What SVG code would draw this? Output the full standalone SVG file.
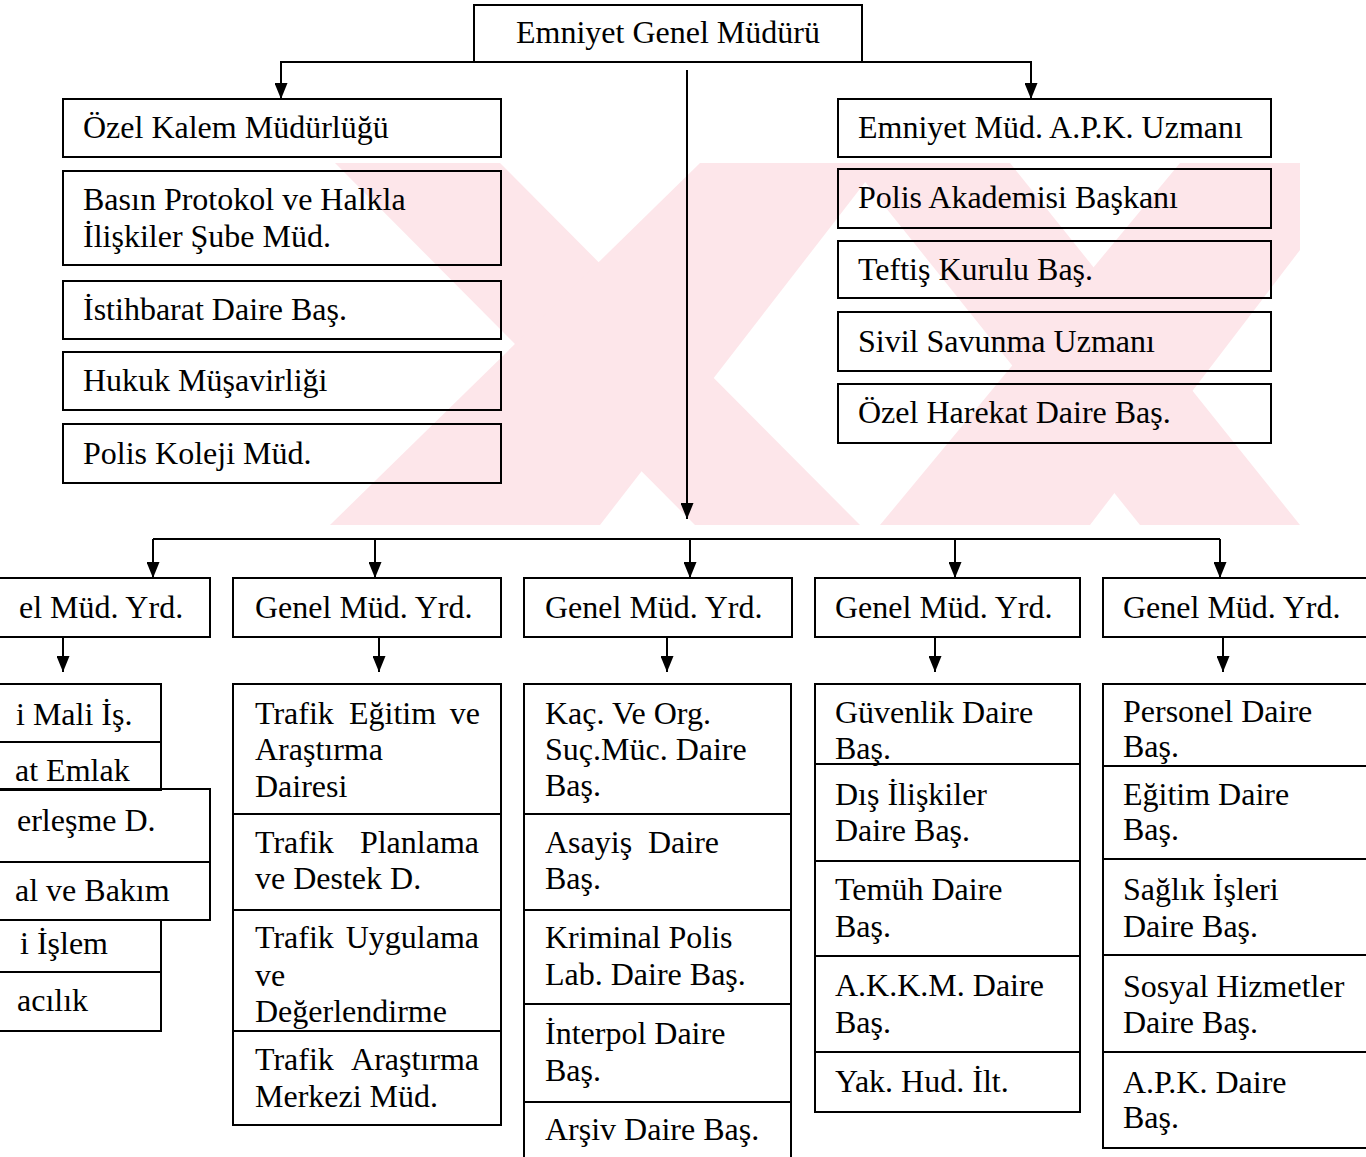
<svg xmlns="http://www.w3.org/2000/svg" width="1366" height="1157" viewBox="0 0 1366 1157">
<style>
.bx{fill:none;stroke:#000;stroke-width:2}
.ln{fill:none;stroke:#000;stroke-width:2}
.t{font-family:"Liberation Serif","Times New Roman",serif;font-size:32px;fill:#000}
.wm{fill:#fde6ea}
</style>
<defs>
<marker id="ah" viewBox="0 0 16 13" markerWidth="16" markerHeight="13" refX="16" refY="6.5" orient="auto" markerUnits="userSpaceOnUse">
<path d="M0,0 L16,6.5 L0,13 z" fill="#000"/>
</marker>
</defs>
<rect width="1366" height="1157" fill="#fff"/>
<g id="watermark">
<polygon class="wm" points="335,163 500,163 860,525 695,525"/>
<polygon class="wm" points="850,163 1010,163 1300,525 1140,525"/>
<polygon class="wm" points="330,525 600,525 880,163 700,163"/>
<polygon class="wm" points="880,525 1090,525 1300,250 1300,163 1180,163"/>
</g>
<g id="connectors">
<path class="ln" d="M474,62 H281 V99" marker-end="url(#ah)"/>
<path class="ln" d="M862,62 H1031 V99" marker-end="url(#ah)"/>
<path class="ln" d="M687,70 V519" marker-end="url(#ah)"/>
<path class="ln" d="M153,539 H1220"/>
<path class="ln" d="M153,539 V578" marker-end="url(#ah)"/>
<path class="ln" d="M375,539 V578" marker-end="url(#ah)"/>
<path class="ln" d="M690,539 V578" marker-end="url(#ah)"/>
<path class="ln" d="M955,539 V578" marker-end="url(#ah)"/>
<path class="ln" d="M1220,539 V578" marker-end="url(#ah)"/>
<path class="ln" d="M63,637 V672" marker-end="url(#ah)"/>
<path class="ln" d="M379,637 V672" marker-end="url(#ah)"/>
<path class="ln" d="M667,637 V672" marker-end="url(#ah)"/>
<path class="ln" d="M935,637 V672" marker-end="url(#ah)"/>
<path class="ln" d="M1223,637 V672" marker-end="url(#ah)"/>
</g>
<g id="n-top"><rect class="bx" x="474" y="5" width="388" height="57" fill="#fff"/><text class="t" x="668" y="43" text-anchor="middle">Emniyet Genel Müdürü</text></g>
<g id="n-l1"><rect class="bx" x="63" y="99" width="438" height="58"/><text class="t" x="83" y="138">Özel Kalem Müdürlüğü</text></g>
<g id="n-l2"><rect class="bx" x="63" y="171" width="438" height="94"/><text class="t" x="83" y="210">Basın Protokol ve Halkla</text><text class="t" x="83" y="247">İlişkiler Şube Müd.</text></g>
<g id="n-l3"><rect class="bx" x="63" y="281" width="438" height="58"/><text class="t" x="83" y="320">İstihbarat Daire Baş.</text></g>
<g id="n-l4"><rect class="bx" x="63" y="352" width="438" height="58"/><text class="t" x="83" y="391">Hukuk Müşavirliği</text></g>
<g id="n-l5"><rect class="bx" x="63" y="424" width="438" height="59"/><text class="t" x="83" y="464">Polis Koleji Müd.</text></g>
<g id="n-r1"><rect class="bx" x="838" y="99" width="433" height="58"/><text class="t" x="858" y="138">Emniyet Müd. A.P.K. Uzmanı</text></g>
<g id="n-r2"><rect class="bx" x="838" y="169" width="433" height="59"/><text class="t" x="858" y="208">Polis Akademisi Başkanı</text></g>
<g id="n-r3"><rect class="bx" x="838" y="241" width="433" height="57"/><text class="t" x="858" y="280">Teftiş Kurulu Baş.</text></g>
<g id="n-r4"><rect class="bx" x="838" y="312" width="433" height="59"/><text class="t" x="858" y="352">Sivil Savunma Uzmanı</text></g>
<g id="n-r5"><rect class="bx" x="838" y="384" width="433" height="59"/><text class="t" x="858" y="423">Özel Harekat Daire Baş.</text></g>
<g id="n-y1"><rect class="bx" x="-5" y="578" width="215" height="59"/><text class="t" x="19" y="618">el Müd. Yrd.</text></g>
<g id="n-y2"><rect class="bx" x="233" y="578" width="268" height="59"/><text class="t" x="255" y="618">Genel Müd. Yrd.</text></g>
<g id="n-y3"><rect class="bx" x="524" y="578" width="268" height="59"/><text class="t" x="545" y="618">Genel Müd. Yrd.</text></g>
<g id="n-y4"><rect class="bx" x="815" y="578" width="265" height="59"/><text class="t" x="835" y="618">Genel Müd. Yrd.</text></g>
<g id="n-y5"><rect class="bx" x="1103" y="578" width="270" height="59"/><text class="t" x="1123" y="618">Genel Müd. Yrd.</text></g>
<g id="n-c1">
<rect class="bx" x="-5" y="684" width="166" height="58"/><text class="t" x="16" y="725">i Mali İş.</text>
<rect class="bx" x="-5" y="742" width="166" height="48"/><text class="t" x="15" y="781">at Emlak</text>
<rect class="bx" x="-5" y="789" width="215" height="73" fill="#fff"/><text class="t" x="17" y="831">erleşme D.</text>
<rect class="bx" x="-5" y="862" width="215" height="58"/><text class="t" x="15" y="901">al ve Bakım</text>
<rect class="bx" x="-5" y="920" width="166" height="52"/><text class="t" x="20" y="954">i İşlem</text>
<rect class="bx" x="-5" y="972" width="166" height="59"/><text class="t" x="17" y="1011">acılık</text>
</g>
<g id="n-c2">
<rect class="bx" x="233" y="684" width="268" height="441"/>
<path class="ln" d="M233,814 H501 M233,910 H501 M233,1031 H501"/>
<text class="t" x="255" y="724">Trafik</text><text class="t" x="349" y="724">Eğitim</text><text class="t" x="480" y="724" text-anchor="end">ve</text>
<text class="t" x="255" y="760">Araştırma</text>
<text class="t" x="255" y="797">Dairesi</text>
<text class="t" x="255" y="853">Trafik</text><text class="t" x="479" y="853" text-anchor="end">Planlama</text>
<text class="t" x="255" y="889">ve Destek D.</text>
<text class="t" x="255" y="948">Trafik</text><text class="t" x="479" y="948" text-anchor="end">Uygulama</text>
<text class="t" x="255" y="986">ve</text>
<text class="t" x="255" y="1022">Değerlendirme</text>
<text class="t" x="255" y="1070">Trafik</text><text class="t" x="479" y="1070" text-anchor="end">Araştırma</text>
<text class="t" x="255" y="1107">Merkezi Müd.</text>
</g>
<g id="n-c3">
<rect class="bx" x="524" y="684" width="267" height="490"/>
<path class="ln" d="M524,814 H791 M524,910 H791 M524,1004 H791 M524,1102 H791"/>
<text class="t" x="545" y="724">Kaç. Ve Org.</text>
<text class="t" x="545" y="760">Suç.Müc. Daire</text>
<text class="t" x="545" y="796">Baş.</text>
<text class="t" x="545" y="853">Asayiş</text><text class="t" x="648" y="853">Daire</text>
<text class="t" x="545" y="889">Baş.</text>
<text class="t" x="545" y="948">Kriminal Polis</text>
<text class="t" x="545" y="985">Lab. Daire Baş.</text>
<text class="t" x="545" y="1044">İnterpol Daire</text>
<text class="t" x="545" y="1081">Baş.</text>
<text class="t" x="545" y="1140">Arşiv Daire Baş.</text>
</g>
<g id="n-c4">
<rect class="bx" x="815" y="684" width="265" height="428"/>
<path class="ln" d="M815,764 H1080 M815,861 H1080 M815,956 H1080 M815,1052 H1080"/>
<text class="t" x="835" y="723">Güvenlik Daire</text>
<text class="t" x="835" y="759">Baş.</text>
<text class="t" x="835" y="805">Dış İlişkiler</text>
<text class="t" x="835" y="841">Daire Baş.</text>
<text class="t" x="835" y="900">Temüh Daire</text>
<text class="t" x="835" y="937">Baş.</text>
<text class="t" x="835" y="996">A.K.K.M. Daire</text>
<text class="t" x="835" y="1033">Baş.</text>
<text class="t" x="835" y="1092">Yak. Hud. İlt.</text>
</g>
<g id="n-c5">
<rect class="bx" x="1103" y="684" width="270" height="464"/>
<path class="ln" d="M1103,766 H1366 M1103,859 H1366 M1103,955 H1366 M1103,1052 H1366"/>
<text class="t" x="1123" y="722">Personel Daire</text>
<text class="t" x="1123" y="757">Baş.</text>
<text class="t" x="1123" y="805">Eğitim Daire</text>
<text class="t" x="1123" y="840">Baş.</text>
<text class="t" x="1123" y="900">Sağlık İşleri</text>
<text class="t" x="1123" y="937">Daire Baş.</text>
<text class="t" x="1123" y="997">Sosyal Hizmetler</text>
<text class="t" x="1123" y="1033">Daire Baş.</text>
<text class="t" x="1123" y="1093">A.P.K. Daire</text>
<text class="t" x="1123" y="1128">Baş.</text>
</g>
</svg>
